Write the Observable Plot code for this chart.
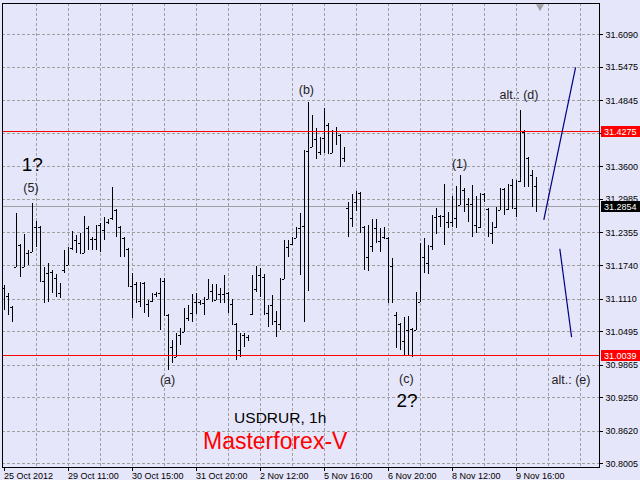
<!DOCTYPE html>
<html><head><meta charset="utf-8">
<script src="https://cdn.jsdelivr.net/npm/d3@7"></script>
<script src="https://cdn.jsdelivr.net/npm/@observablehq/plot@0.6"></script>
<style>html,body{margin:0;padding:0;background:#E6E6FA;overflow:hidden} svg{display:block}</style>
</head><body><div id="chart"></div>
<script>
// USDRUR 1h OHLC bars
const opens = [31.131,31.116,31.095,31.171,31.212,31.171,31.197,31.199,31.246,31.246,
31.144,31.159,31.161,31.150,31.121,31.165,31.174,31.206,31.221,31.216,
31.197,31.244,31.223,31.223,31.250,31.240,31.255,31.263,31.278,31.246,
31.225,31.204,31.135,31.138,31.106,31.140,31.101,31.106,31.120,31.121,
31.144,31.080,31.020,31.001,31.042,31.048,31.074,31.084,31.105,31.105,
31.103,31.110,31.125,31.108,31.120,31.120,31.121,31.101,31.063,31.014,
31.042,31.039,31.082,31.129,31.155,31.152,31.084,31.099,31.069,31.063,
31.148,31.208,31.214,31.225,31.244,31.248,31.389,31.397,31.412,31.387,
31.414,31.438,31.385,31.427,31.419,31.376,31.282,31.263,31.293,31.310,
31.246,31.189,31.210,31.244,31.220,31.227,31.225,31.172,31.080,31.063,
31.031,31.052,31.054,31.052,31.105,31.189,31.178,31.210,31.265,31.267,
31.267,31.255,31.255,31.263,31.287,31.316,31.289,31.289,31.250,31.246,
31.308,31.280,31.235,31.246,31.278,31.318,31.280,31.325,31.282,31.333,
31.425,31.376,31.344,31.323];
const highs = [31.137,31.121,31.097,31.272,31.214,31.233,31.203,31.291,31.257,31.248,
31.171,31.178,31.165,31.157,31.140,31.203,31.208,31.238,31.231,31.235,
31.267,31.248,31.227,31.250,31.253,31.265,31.261,31.321,31.280,31.248,
31.227,31.206,31.159,31.142,31.142,31.142,31.108,31.121,31.123,31.150,
31.150,31.082,31.033,31.046,31.056,31.093,31.099,31.120,31.121,31.108,
31.114,31.148,31.139,31.139,31.131,31.155,31.123,31.110,31.065,31.046,
31.046,31.042,31.155,31.172,31.169,31.157,31.099,31.118,31.088,31.150,
31.221,31.221,31.227,31.246,31.272,31.391,31.481,31.457,31.433,31.415,
31.470,31.442,31.429,31.434,31.421,31.397,31.293,31.308,31.314,31.312,
31.248,31.250,31.261,31.261,31.244,31.246,31.227,31.187,31.086,31.065,
31.076,31.078,31.056,31.123,31.216,31.225,31.212,31.269,31.282,31.269,
31.327,31.274,31.304,31.323,31.344,31.319,31.301,31.325,31.304,31.310,
31.310,31.282,31.255,31.284,31.319,31.319,31.327,31.336,31.335,31.466,
31.429,31.378,31.353,31.340];
const lows = [31.089,31.080,31.067,31.171,31.152,31.171,31.174,31.199,31.208,31.142,
31.103,31.105,31.121,31.114,31.112,31.159,31.174,31.203,31.197,31.195,
31.197,31.203,31.203,31.203,31.199,31.221,31.252,31.259,31.227,31.189,
31.189,31.133,31.074,31.103,31.095,31.084,31.076,31.104,31.114,31.052,
31.078,30.976,30.990,31.001,31.024,31.048,31.069,31.067,31.082,31.099,
31.080,31.110,31.105,31.108,31.103,31.103,31.084,31.061,30.995,31.001,
31.020,31.031,31.080,31.123,31.114,31.080,31.058,31.061,31.039,31.052,
31.148,31.189,31.212,31.225,31.155,31.067,31.125,31.397,31.374,31.382,
31.385,31.385,31.385,31.400,31.359,31.368,31.227,31.246,31.276,31.235,
31.165,31.163,31.199,31.216,31.199,31.225,31.103,31.103,31.018,31.014,
31.003,31.003,31.001,31.052,31.105,31.159,31.157,31.203,31.233,31.246,
31.212,31.244,31.246,31.244,31.287,31.274,31.255,31.227,31.235,31.244,
31.293,31.227,31.214,31.244,31.278,31.269,31.278,31.280,31.265,31.331,
31.321,31.321,31.284,31.274];
const closes = [31.118,31.099,31.080,31.212,31.172,31.197,31.199,31.246,31.245,31.144,
31.159,31.161,31.150,31.121,31.123,31.174,31.206,31.221,31.216,31.197,
31.244,31.204,31.206,31.250,31.252,31.255,31.257,31.278,31.246,31.225,
31.204,31.135,31.138,31.106,31.140,31.101,31.106,31.120,31.121,31.144,
31.080,31.020,31.001,31.042,31.048,31.074,31.084,31.105,31.105,31.104,
31.112,31.125,31.108,31.120,31.120,31.121,31.110,31.063,31.014,31.042,
31.041,31.033,31.129,31.155,31.155,31.084,31.099,31.069,31.063,31.148,
31.208,31.214,31.220,31.244,31.248,31.389,31.397,31.412,31.387,31.414,
31.438,31.385,31.427,31.419,31.376,31.385,31.263,31.284,31.310,31.246,
31.187,31.210,31.244,31.220,31.227,31.225,31.172,31.105,31.063,31.031,
31.005,31.054,31.054,31.105,31.189,31.178,31.210,31.265,31.267,31.267,
31.255,31.255,31.263,31.287,31.316,31.289,31.289,31.250,31.246,31.308,
31.308,31.235,31.246,31.278,31.318,31.280,31.325,31.282,31.333,31.425,
31.376,31.344,31.323,31.2854];

const dateLabels = ["25 Oct 2012","29 Oct 11:00","30 Oct 15:00","31 Oct 20:00","2 Nov 12:00",
  "5 Nov 16:00","6 Nov 20:00","8 Nov 12:00","9 Nov 16:00"];
const barsPerLabel = 16;
const barsPerGrid = 8;
const yTicks = [31.6090,31.5475,31.4845,31.4230,31.3600,31.2985,31.2355,31.1740,31.1110,
  31.0495,30.9865,30.9250,30.8620,30.8005];
const levels = [31.4275, 31.0039];
const bid = closes[closes.length - 1];

// Text objects anchored to bar index / price
const waveText  = ["(5)","(a)","(b)","(c)","(1)","alt.: (d)","alt.: (e)"];
const waveIdx   = [6.75, 40.9, 75.6, 100.6, 113.9, 128.75, 141.75];
const wavePrice = [31.3203, 30.9575, 31.5041, 30.9594, 31.3656, 31.4956, 30.9585];
const degreeText  = ["1?","2?"];
const degreeIdx   = [7.05, 100.75];
const degreePrice = [31.3646, 30.9189];
const titleText = ["USDRUR, 1h"];
const titleIdx = [69.05];
const titlePrice = [30.8868];
const brandText = ["Masterforex-V"];
const brandIdx = [67.8];
const brandPrice = [30.8416];

// Trend lines
const trendStartIdx = [134.95, 138.95];
const trendStartPrice = [31.2604, 31.2057];
const trendEndIdx = [142.9, 141.9];
const trendEndPrice = [31.5474, 31.0391];

const bars = opens.map((o, i) => ({i, open: o, high: highs[i], low: lows[i], close: closes[i]}));
const labelIdx = dateLabels.map((_, k) => k * barsPerLabel);
const gridIdx = d3.range(barsPerGrid, 148, barsPerGrid);
const waves = waveText.map((t, k) => ({t, i: waveIdx[k], p: wavePrice[k]}));
const degrees = degreeText.map((t, k) => ({t, i: degreeIdx[k], p: degreePrice[k]}));
const titles = titleText.map((t, k) => ({t, i: titleIdx[k], p: titlePrice[k]}));
const brands = brandText.map((t, k) => ({t, i: brandIdx[k], p: brandPrice[k]}));
const trends = trendStartIdx.map((s, k) => ({x1: s, y1: trendStartPrice[k], x2: trendEndIdx[k], y2: trendEndPrice[k]}));

const font = "'Liberation Sans', Arial, sans-serif";
const crisp = {shapeRendering: "crispEdges"};

const chart = Plot.plot({
  width: 640, height: 480,
  marginLeft: 2, marginRight: 41, marginTop: 3, marginBottom: 13,
  style: {background: "#E6E6FA", fontFamily: font, fontSize: "9px", color: "#000", overflow: "visible", maxWidth: "none"},
  x: {domain: [-0.375, 148.875], label: null},
  y: {domain: [30.7935, 31.668], label: null},
  marks: [
    Plot.gridX(gridIdx, {stroke: "#a0a0a0", strokeOpacity: 1, strokeDasharray: "3,2", ...crisp}),
    Plot.gridY(yTicks, {stroke: "#a0a0a0", strokeOpacity: 1, strokeDasharray: "3,2", ...crisp}),
    Plot.ruleY([bid], {stroke: "#a0a0a0", ...crisp}),
    Plot.ruleX(bars, {x: "i", y1: "low", y2: "high", stroke: "#000", ...crisp}),
    Plot.ruleY(bars, {y: "open", x1: d => d.i - 0.375, x2: d => d.i, stroke: "#000", ...crisp}),
    Plot.ruleY(bars, {y: "close", x1: d => d.i, x2: d => d.i + 0.375, stroke: "#000", ...crisp}),
    Plot.ruleY(levels, {stroke: "red", strokeWidth: 1, ...crisp}),
    Plot.link(trends, {x1: "x1", y1: "y1", x2: "x2", y2: "y2", stroke: "#000080", strokeWidth: 1.2}),
    Plot.text(waves, {x: "i", y: "p", text: "t", fontSize: 12.5, fill: "#222", lineAnchor: "middle"}),
    Plot.text(degrees, {x: "i", y: "p", text: "t", fontSize: 19, fill: "#000", lineAnchor: "middle"}),
    Plot.text(titles, {x: "i", y: "p", text: "t", fontSize: 15.5, fill: "#000", lineAnchor: "middle"}),
    Plot.text(brands, {x: "i", y: "p", text: "t", fontSize: 23, fill: "#ff0000", lineAnchor: "middle"}),
    Plot.dot([bars.length], {x: d => d, frameAnchor: "top", symbol: "triangle", rotate: 180, r: 3, fill: "#a0a0a0", stroke: "none", dy: 3}),
    Plot.frame({stroke: "#000", ...crisp}),
    Plot.axisX(labelIdx, {anchor: "bottom", tickSize: 4, tickPadding: 1, textAnchor: "start",
      tickFormat: d => dateLabels[d / barsPerLabel], fontSize: 9, label: null, ...crisp}),
    Plot.axisY(yTicks, {anchor: "right", tickSize: 3, tickPadding: 3, tickFormat: d => d.toFixed(4),
      fontSize: 9, label: null, ...crisp})
  ]
});
document.getElementById("chart").appendChild(chart);

// price boxes on the right axis
const sy = chart.scale("y");
const sx = chart.scale("x");
const xRight = sx.range[1];
const boxes = [{v: levels[0], fill: "#ff0000"}, {v: bid, fill: "#000000"}, {v: levels[1], fill: "#ff0000"}];
const g = d3.select(chart).append("g").attr("text-anchor", "start");
boxes.forEach(b => {
  const yy = Math.round(sy.apply(b.v));
  g.append("rect").attr("x", xRight + 2).attr("y", yy - 5).attr("width", 39).attr("height", 11)
    .attr("fill", b.fill).attr("stroke", "none");
  g.append("text").attr("x", xRight + 5).attr("y", yy + 0.5).attr("dy", "0.35em").attr("fill", "#ffffff")
    .attr("text-anchor", "start").attr("font-size", 9).attr("font-family", font).text(b.v.toFixed(4));
});
</script></body></html>
